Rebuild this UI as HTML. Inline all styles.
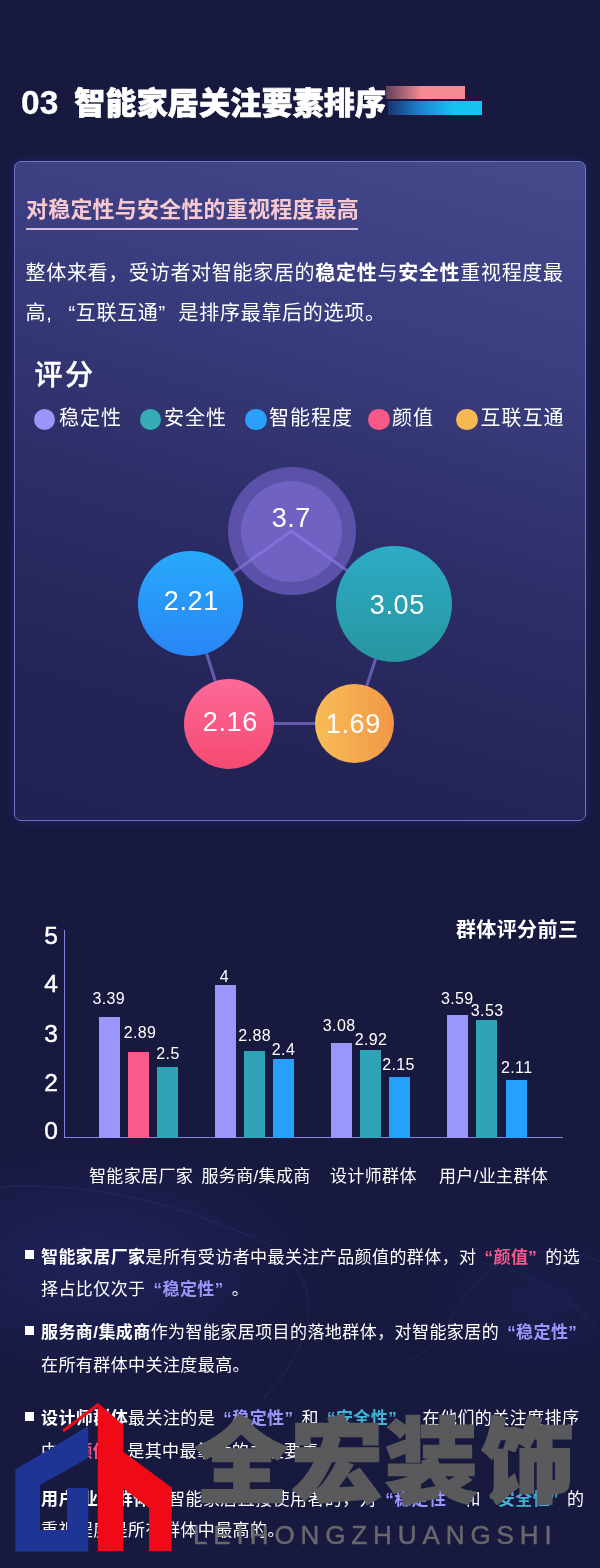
<!DOCTYPE html>
<html lang="zh-CN">
<head>
<meta charset="utf-8">
<title>03 智能家居关注要素排序</title>
<style>
*{margin:0;padding:0;box-sizing:border-box}
html,body{width:600px;height:1568px;background:#17193f;overflow:hidden}
body{font-family:"Liberation Sans","Noto Sans CJK SC",sans-serif;color:#fff;position:relative}
.abs{position:absolute;white-space:nowrap}
#page{position:absolute;left:0;top:0;width:600px;height:1568px;overflow:hidden;will-change:transform}
/* heading */
#h1{left:21px;top:82px;font-size:31px;line-height:42px;font-weight:900;letter-spacing:.2px;-webkit-text-stroke:.7px #fff}
#h1 .n{font-size:33.5px;margin-right:16px;font-weight:700;-webkit-text-stroke:.3px #fff;letter-spacing:0}
.deco{position:absolute;height:14px}
#deco1{left:386px;top:86px;width:79px;height:13px;background:linear-gradient(90deg,rgba(245,136,146,.35) 0%,#f58a92 45%,#f58a92 100%)}
#deco2{left:388px;top:101px;width:94px;height:14px;background:linear-gradient(90deg,#1d3272 0%,#1a86cf 35%,#14c3f2 70%,#14c3f2 100%)}
/* card */
#card{position:absolute;left:14px;top:160.5px;width:572px;height:660.5px;border:1.5px solid #7073c2;border-radius:7px;box-shadow:0 0 8px rgba(48,58,190,.38);
background:linear-gradient(196deg,#444a8c 0%,#3b3e80 25%,#2d2e68 55%,#222254 85%,#212153 100%)}
#sub{left:26px;top:194px;font-size:22px;letter-spacing:.2px;line-height:32px;font-weight:700;color:#f9c9d2}
#subline{position:absolute;left:26px;top:228.2px;width:332px;height:1.6px;background:#d4bade}
.para{left:25.5px;font-size:20px;letter-spacing:.7px;line-height:40px;color:#fff}
#score{left:34.5px;top:356.5px;font-size:28px;letter-spacing:2.4px;line-height:38px;font-weight:500;-webkit-text-stroke:.35px #fff}
.dot{position:absolute;width:21.4px;height:21.4px;border-radius:50%;top:408.8px}
.lg{top:403px;font-size:20px;letter-spacing:1px;line-height:30px}
/* bubbles */
.bub{position:absolute;border-radius:50%}
.bt{font-size:27px;letter-spacing:.6px;line-height:30px;transform:translate(calc(-50% + .3px),calc(-50% + .7px))}
/* chart */
.yl{font-size:24.5px;line-height:28px;transform:translate(-50%,-50%);left:51px;-webkit-text-stroke:.45px #fff}
.bar{position:absolute;width:21px}
.v{font-size:16px;letter-spacing:.4px;line-height:20px;transform:translate(-50%,calc(-50% + 1.2px))}
.cat{font-size:17px;letter-spacing:.35px;line-height:24px;top:1165px}
.c1{background:#9b96fa}.c2{background:#f85a8a}.c3{background:#2fa4b6}.c4{background:#27a0fb}
/* bullets */
.bl{left:41px;font-size:17px;letter-spacing:.42px;line-height:24px;color:#fff;transform:translateY(calc(-50% + 1.5px))}
.sq{position:absolute;left:25px;width:9px;height:9px;background:#fff}
b{font-weight:700}
#wmt{left:193px;top:1518.3px;font-size:26px;line-height:34px;letter-spacing:5.9px;color:#68686c;font-weight:400;-webkit-text-stroke:.45px #68686c}
.q{display:inline-block;width:1em;font-style:normal}.qo{text-align:right}.qc{text-align:left}
.p{color:#f75a88}.l{color:#9b96fa}.t{color:#3fb4d4}
</style>
</head>
<body>
<div id="page">
<svg class="abs" style="left:0;top:0" width="600" height="1568" viewBox="0 0 600 1568">
 <defs>
  <radialGradient id="gl1" cx="50%" cy="50%" r="50%"><stop offset="0" stop-color="#3a3ca0" stop-opacity=".26"/><stop offset="1" stop-color="#3a3ca0" stop-opacity="0"/></radialGradient>
 </defs>
 <ellipse cx="95" cy="1262" rx="250" ry="130" fill="url(#gl1)"/>
 <ellipse cx="540" cy="1300" rx="150" ry="90" fill="url(#gl1)" opacity=".5"/>
 <path d="M0,1187 C110,1180 190,1212 255,1238 S330,1330 262,1400" fill="none" stroke="#7f80e0" stroke-opacity=".10" stroke-width="1.2"/>
 <path d="M600,1262 C560,1240 500,1250 470,1290 S440,1350 400,1365" fill="none" stroke="#7f80e0" stroke-opacity=".09" stroke-width="1.2"/>
 <path d="M600,1335 C570,1290 520,1270 480,1262" fill="none" stroke="#7f80e0" stroke-opacity=".08" stroke-width="1.2"/>
</svg>

<div class="abs" id="h1"><span class="n">03</span>智能家居关注要素排序</div>
<div class="deco" id="deco1"></div>
<div class="deco" id="deco2"></div>

<div id="card"></div>
<div class="abs" id="sub">对稳定性与安全性的重视程度最高</div>
<div id="subline"></div>
<div class="abs para" style="top:252.5px">整体来看，受访者对智能家居的<b>稳定性</b>与<b>安全性</b>重视程度最</div>
<div class="abs para" style="top:292.5px">高,<i class="q qo" style="margin-left:3.3px">“</i>互联互通<i class="q qc">”</i>是排序最靠后的选项。</div>

<div class="abs" id="score">评分</div>
<div class="dot" style="left:33.8px;background:#9d94f7"></div><div class="abs lg" style="left:59px">稳定性</div>
<div class="dot" style="left:140px;background:#37acb6"></div><div class="abs lg" style="left:164px">安全性</div>
<div class="dot" style="left:245.4px;background:#2aa0f8"></div><div class="abs lg" style="left:269px">智能程度</div>
<div class="dot" style="left:368.4px;background:#f75a88"></div><div class="abs lg" style="left:392px">颜值</div>
<div class="dot" style="left:456.4px;background:#f5b952"></div><div class="abs lg" style="left:480.5px">互联互通</div>

<div class="bub" style="left:227.5px;top:467px;width:128px;height:128px;background:#5c51a8"></div>
<div class="bub" style="left:241px;top:480.5px;width:101px;height:101px;background:#6f62c3"></div>
<svg class="abs" style="left:0;top:0" width="600" height="1568" viewBox="0 0 600 1568">
 <polygon points="291.5,531 393.8,603.8 354.4,723.4 228.8,723.4 190.5,603" fill="none" stroke="rgba(142,127,228,.6)" stroke-width="3"/>
</svg>
<div class="bub" style="left:138px;top:550.5px;width:105px;height:105px;background:linear-gradient(180deg,#27a9fb,#2a85f6)"></div>
<div class="bub" style="left:335.5px;top:545.5px;width:116.5px;height:116.5px;background:linear-gradient(180deg,#2dabc6,#27969f)"></div>
<div class="bub" style="left:183.8px;top:678.6px;width:90px;height:90px;background:linear-gradient(180deg,#fd6a9a,#f5496f)"></div>
<div class="bub" style="left:315px;top:684px;width:78.8px;height:78.8px;background:linear-gradient(90deg,#f7bd56,#f29748)"></div>
<div class="abs bt" style="left:291px;top:517px">3.7</div>
<div class="abs bt" style="left:191px;top:600px">2.21</div>
<div class="abs bt" style="left:397px;top:604px">3.05</div>
<div class="abs bt" style="left:230px;top:721px">2.16</div>
<div class="abs bt" style="left:353px;top:722.5px">1.69</div>

<!-- chart -->
<div class="abs" style="left:456px;top:915px;font-size:20px;letter-spacing:.35px;line-height:30px;font-weight:700">群体评分前三</div>
<div class="abs yl" style="top:936px">5</div>
<div class="abs yl" style="top:984px">4</div>
<div class="abs yl" style="top:1033.5px">3</div>
<div class="abs yl" style="top:1083px">2</div>
<div class="abs yl" style="top:1131px">0</div>
<div style="position:absolute;left:63.8px;top:929.5px;width:1.4px;height:208.5px;background:#8583dc"></div>
<div style="position:absolute;left:63.8px;top:1137.1px;width:499px;height:1.4px;background:#8583dc"></div>

<div class="bar c1" style="left:99px;top:1017.3px;height:120.9px"></div>
<div class="bar c2" style="left:128.2px;top:1052px;height:86.2px"></div>
<div class="bar c3" style="left:157.3px;top:1067.2px;height:71.0px"></div>
<div class="bar c1" style="left:215.2px;top:984.5px;height:153.7px"></div>
<div class="bar c3" style="left:244px;top:1050.7px;height:87.5px"></div>
<div class="bar c4" style="left:273.2px;top:1059.2px;height:79.0px"></div>
<div class="bar c1" style="left:331.2px;top:1042.7px;height:95.5px"></div>
<div class="bar c3" style="left:360.2px;top:1049.9px;height:88.3px"></div>
<div class="bar c4" style="left:389.3px;top:1076.5px;height:61.7px"></div>
<div class="bar c1" style="left:447.4px;top:1014.7px;height:123.5px"></div>
<div class="bar c3" style="left:476.2px;top:1020px;height:118.2px"></div>
<div class="bar c4" style="left:505.5px;top:1080px;height:58.2px"></div>

<div class="abs v" style="left:108.8px;top:997.5px">3.39</div>
<div class="abs v" style="left:140px;top:1032px">2.89</div>
<div class="abs v" style="left:168px;top:1053px">2.5</div>
<div class="abs v" style="left:224.5px;top:975.5px">4</div>
<div class="abs v" style="left:254.7px;top:1034.7px">2.88</div>
<div class="abs v" style="left:283.5px;top:1048.5px">2.4</div>
<div class="abs v" style="left:339.2px;top:1024.8px">3.08</div>
<div class="abs v" style="left:371px;top:1038.7px">2.92</div>
<div class="abs v" style="left:398.5px;top:1064px">2.15</div>
<div class="abs v" style="left:457.3px;top:998px">3.59</div>
<div class="abs v" style="left:487.2px;top:1010.2px">3.53</div>
<div class="abs v" style="left:516.7px;top:1066.7px">2.11</div>

<div class="abs cat" style="left:89px">智能家居厂家</div>
<div class="abs cat" style="left:201.5px">服务商/集成商</div>
<div class="abs cat" style="left:330px">设计师群体</div>
<div class="abs cat" style="left:439px">用户/业主群体</div>

<!-- bullets -->
<div class="sq" style="top:1250px"></div>
<div class="abs bl" style="top:1256px"><b>智能家居厂家</b>是所有受访者中最关注产品颜值的群体，对<b class="p"><i class="q qo">“</i>颜值<i class="q qc">”</i></b>的选</div>
<div class="abs bl" style="top:1288.3px">择占比仅次于<b class="l"><i class="q qo">“</i>稳定性<i class="q qc">”</i></b>。</div>
<div class="sq" style="top:1326px"></div>
<div class="abs bl" style="top:1331.3px"><b>服务商/集成商</b>作为智能家居项目的落地群体，对智能家居的<b class="l"><i class="q qo">“</i>稳定性<i class="q qc">”</i></b></div>
<div class="abs bl" style="top:1363.7px">在所有群体中关注度最高。</div>
<div class="sq" style="top:1412px"></div>
<div class="abs bl" style="top:1417.3px"><b>设计师群体</b>最关注的是<b class="l"><i class="q qo">“</i>稳定性<i class="q qc">”</i></b>和<b class="t"><i class="q qo">“</i>安全性<i class="q qc">”</i></b>，在他们的关注度排序</div>
<div class="abs bl" style="top:1450px">中<b class="p"><i class="q qo">“</i>颜值<i class="q qc">”</i></b>是其中最靠后的关注要素。</div>
<div class="sq" style="top:1493px"></div>
<div class="abs bl" style="top:1498px"><b>用户/业主群体</b>是智能家居直接使用者的，对<b class="l"><i class="q qo">“</i>稳定性<i class="q qc">”</i></b>和<b class="t"><i class="q qo">“</i>安全性<i class="q qc">”</i></b>的</div>
<div class="abs bl" style="top:1529.3px">重视程度是所有群体中最高的。</div>

<!-- WM0 -->
<svg class="abs" style="left:0;top:0" width="600" height="1568" viewBox="0 0 600 1568" role="img" aria-label="全宏装饰 LEIHONGZHUANGSHI">
<g fill="#5a5a5c" stroke="#5a5a5c" stroke-width="2.4" stroke-linejoin="miter">
<text x="195.6 291.1 385.2 482" y="1495" font-size="92" font-weight="900" font-family='"Liberation Sans","Noto Sans CJK SC",sans-serif'>全宏装饰</text>
</g>
<polygon fill="#1f3596" points="15.3,1469.6 88.3,1426 88.3,1458 40,1485 40,1530 67,1530 67,1488 88.3,1488 88.3,1551.5 15.3,1551.5"/>
<polygon fill="#f00a18" points="98.3,1403.3 123.3,1425 123.3,1451.7 171.7,1487.5 171.7,1551 149,1551 149,1508 123.3,1488.3 123.3,1551 97.8,1551 97.8,1404"/>
<line x1="98.8" y1="1404.3" x2="63" y2="1431" stroke="#f00a18" stroke-width="3"/>
</svg>
<div class="abs" id="wmt">LEIHONGZHUANGSHI</div>
<!-- WM1 -->

</div>
</body>
</html>
